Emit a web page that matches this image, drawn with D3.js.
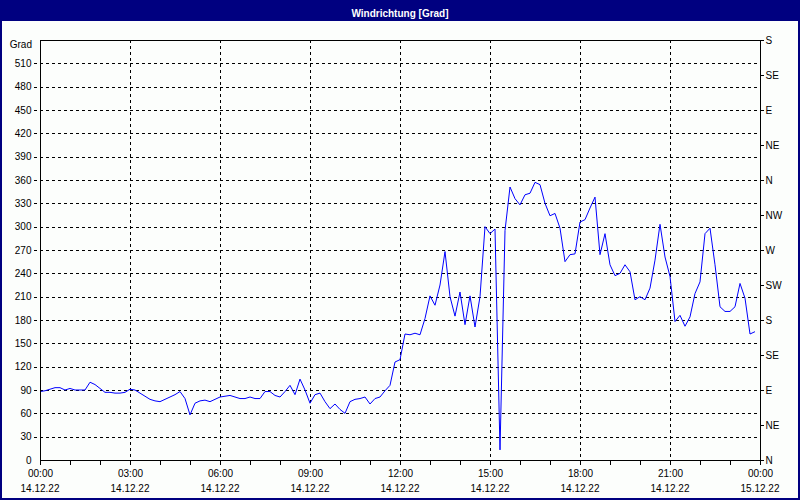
<!DOCTYPE html>
<html>
<head>
<meta charset="utf-8">
<script src="https://cdn.jsdelivr.net/npm/d3@7"></script>
<style>
  body { margin: 0; background: #fff; }
  svg text { font-family: "Liberation Sans", Arial, sans-serif; font-size: 10px; fill: #000; }
</style>
</head>
<body>
<div id="container"></div>
<script>
// 10-minute wind direction readings, 14.12.22 00:00 .. 23:50
var startTime = new Date(2022, 11, 14, 0, 0);
var stepMinutes = 10;
var windDir = [
  88, 89, 91, 93, 93, 90, 92, 90, 90, 90, 100, 97,
  92, 87, 87, 86, 86, 87, 91, 90, 86, 82, 78, 76,
  75, 78, 81, 84, 88, 79, 58, 73, 76, 77, 75, 78,
  81, 82, 83, 81, 79, 79, 81, 79, 79, 88, 88, 83,
  81, 88, 96, 84, 104, 90, 73, 84, 86, 75, 66, 72,
  65, 60, 75, 78, 79, 81, 72, 79, 81, 89, 96, 126,
  129, 162, 161, 163, 161, 182, 211, 199, 225, 268, 210, 185,
  216, 174, 211, 171, 210, 300, 291, 297, 13, 295, 351, 336,
  328, 341, 343, 357, 354, 330, 314, 317, 298, 255, 264, 265,
  306, 309, 324, 338, 264, 291, 251, 237, 240, 251, 242, 206,
  210, 206, 221, 257, 303, 261, 236, 178, 186, 172, 184, 214,
  229, 291, 298, 251, 197, 191, 191, 197, 227, 208, 162, 165
];
var gradTicks = [0, 30, 60, 90, 120, 150, 180, 210, 240, 270, 300, 330, 360, 390, 420, 450, 480, 510];
var compassTicks = [0, 45, 90, 135, 180, 225, 270, 315, 360, 405, 450, 495, 540];
var compassLabels = ["N", "NE", "E", "SE", "S", "SW", "W", "NW", "N", "NE", "E", "SE", "S"];
var titleText = "Windrichtung [Grad]";
var unitText = "Grad";

var W = 800, H = 500;
var plotLeft = 40, plotRight = 760, plotTop = 40, plotBottom = 460;

var endTime = d3.timeHour.offset(startTime, 24);
var x = d3.scaleTime().domain([startTime, endTime]).range([plotLeft, plotRight]);
var y = d3.scaleLinear().domain([0, 540]).range([plotBottom, plotTop]);

var svg = d3.select('#container').append('svg')
  .attr('width', W)
  .attr('height', H);

svg.append('rect')
  .attr('width', W).attr('height', H)
  .attr('fill', '#fcfefc');

// title bar
svg.append('rect')
  .attr('x', 0).attr('y', 0)
  .attr('width', W).attr('height', 21)
  .attr('fill', '#000080');
svg.append('text')
  .attr('x', W / 2).attr('y', 14)
  .attr('text-anchor', 'middle')
  .attr('dominant-baseline', 'middle')
  .style('font-weight', 'bold')
  .style('font-size', '10px')
  .style('fill', '#fff')
  .text(titleText);

// horizontal grid
svg.selectAll('.hgrid')
  .data(gradTicks.filter(function(d) { return d > 0; }))
  .enter()
  .append('line')
  .attr('class', 'hgrid')
  .attr('x1', plotLeft - 6).attr('x2', plotRight)
  .attr('y1', function(d) { return Math.round(y(d)) + 0.5; })
  .attr('y2', function(d) { return Math.round(y(d)) + 0.5; })
  .attr('stroke', '#000')
  .attr('stroke-dasharray', '3,3')
  .attr('shape-rendering', 'crispEdges');

// vertical grid every 3 hours
var gridTimes = d3.timeHour.every(3).range(d3.timeHour.offset(startTime, 1), endTime);
svg.selectAll('.vgrid')
  .data(gridTimes)
  .enter()
  .append('line')
  .attr('class', 'vgrid')
  .attr('x1', function(d) { return Math.round(x(d)) + 0.5; })
  .attr('x2', function(d) { return Math.round(x(d)) + 0.5; })
  .attr('y1', plotTop).attr('y2', plotBottom)
  .attr('stroke', '#000')
  .attr('stroke-dasharray', '3,3')
  .attr('shape-rendering', 'crispEdges');

// left axis
var yAxis = d3.axisLeft(y)
  .tickValues(gradTicks)
  .tickSize(0)
  .tickPadding(9)
  .tickFormat(d3.format('d'));
var gy = svg.append('g')
  .attr('transform', 'translate(' + (plotLeft + 0.5) + ',0)')
  .call(yAxis);
gy.select('.domain').remove();
gy.attr('font-family', null).attr('font-size', null);

svg.append('text')
  .attr('x', plotLeft - 8).attr('y', plotTop + 5)
  .attr('text-anchor', 'end')
  .attr('dominant-baseline', 'middle')
  .text(unitText);

// right axis (compass)
var yRight = d3.axisRight(y)
  .tickValues(compassTicks)
  .tickSize(3)
  .tickPadding(2)
  .tickFormat(function(d, i) { return compassLabels[i]; });
var gr = svg.append('g')
  .attr('transform', 'translate(' + (plotRight + 0.5) + ',0)')
  .call(yRight);
gr.select('.domain').remove();
gr.attr('font-family', null).attr('font-size', null);
gr.selectAll('line').attr('shape-rendering', 'crispEdges');

// bottom axis: hourly ticks, labels every 3 hours
var xAxis = d3.axisBottom(x)
  .ticks(d3.timeHour.every(1))
  .tickSize(4)
  .tickFormat(function(d) { return d.getHours() % 3 === 0 ? d3.timeFormat('%H:%M')(d) : ''; });
var gx = svg.append('g')
  .attr('transform', 'translate(0,' + (plotBottom + 0.5) + ')')
  .call(xAxis);
gx.select('.domain').remove();
gx.attr('font-family', null).attr('font-size', null);
gx.selectAll('line').attr('shape-rendering', 'crispEdges');
gx.selectAll('text').attr('y', 9);

var dateTicks = d3.timeHour.every(3).range(startTime, d3.timeMinute.offset(endTime, 1));
svg.selectAll('.datelabel')
  .data(dateTicks)
  .enter()
  .append('text')
  .attr('class', 'datelabel')
  .attr('x', function(d) { return x(d); })
  .attr('y', 489)
  .attr('text-anchor', 'middle')
  .attr('dominant-baseline', 'middle')
  .text(function(d) { return d3.timeFormat('%d.%m.%y')(d); });

// data line
var line = d3.line()
  .x(function(d, i) { return x(d3.timeMinute.offset(startTime, i * stepMinutes)); })
  .y(function(d) { return y(d); });
svg.append('path')
  .datum(windDir)
  .attr('d', line)
  .attr('fill', 'none')
  .attr('stroke', '#0000ff')
  .attr('stroke-width', 1);

// plot frame
svg.append('rect')
  .attr('x', plotLeft + 0.5).attr('y', plotTop + 0.5)
  .attr('width', plotRight - plotLeft).attr('height', plotBottom - plotTop)
  .attr('fill', 'none')
  .attr('stroke', '#000')
  .attr('shape-rendering', 'crispEdges');

// outer border
svg.append('rect')
  .attr('x', 1).attr('y', 1)
  .attr('width', W - 2).attr('height', H - 2)
  .attr('fill', 'none')
  .attr('stroke', '#000080')
  .attr('stroke-width', 2);
</script>
</body>
</html>
